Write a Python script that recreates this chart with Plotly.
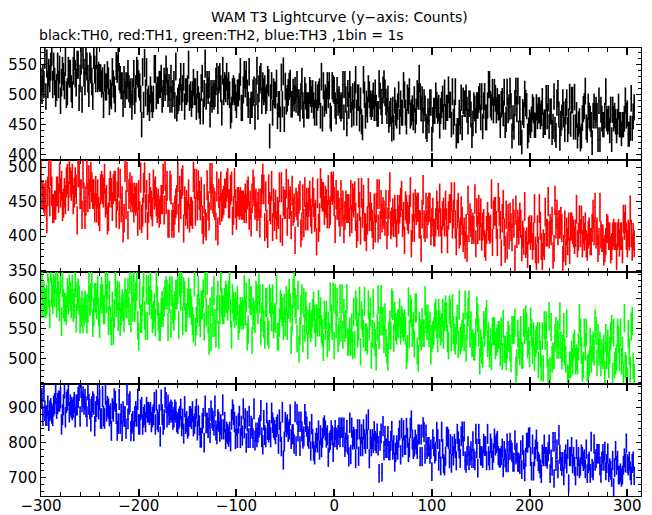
import plotly.graph_objects as go
from plotly.subplots import make_subplots

# ---- data: 1-s bins starting at t = -300 s (counts per bin, read/estimated from the chart) ----
t_start = -300

th0 = [
 522,507,527,517,567,497,552,517,537,527,547,572,517,547,522,502,512,547,517,542,
 490,520,540,530,515,555,500,505,540,535,535,510,500,540,565,535,520,550,550,495,
 527,557,492,567,537,522,557,547,527,502,547,542,522,497,567,542,527,567,527,532,
 528,528,518,523,483,528,513,513,533,523,488,503,498,538,518,508,493,548,543,563,
 530,525,515,515,485,525,500,515,515,535,510,500,505,480,505,535,490,510,540,535,
 518,513,493,450,538,483,553,503,538,488,493,478,508,493,483,493,543,543,498,508,
 507,517,517,527,492,502,522,512,542,522,502,512,492,527,492,502,517,482,547,477,
 490,495,505,530,495,510,530,480,505,505,510,550,495,500,485,500,520,505,505,480,
 517,492,482,472,512,527,472,502,552,497,517,507,517,467,502,492,502,497,502,522,
 530,490,525,530,510,470,540,505,515,510,530,505,515,500,465,475,505,510,505,495,
 483,503,503,513,538,478,478,508,533,518,533,503,483,538,473,483,483,503,508,463,
 505,540,480,510,525,530,490,515,505,510,490,495,525,520,431,495,515,470,505,500,
 499,519,464,484,484,459,529,484,539,459,514,489,494,504,514,519,484,484,504,494,
 507,492,517,487,487,477,497,522,482,467,507,497,482,482,482,507,502,492,502,482,
 470,500,470,495,500,505,465,530,460,515,485,495,490,515,500,515,465,460,515,510,
 507,482,472,507,487,492,482,477,482,517,462,517,492,452,502,482,517,492,467,497,
 470,500,525,470,495,495,460,490,455,445,525,500,465,485,475,510,500,485,480,485,
 498,478,503,478,468,468,518,498,488,473,508,518,503,488,473,493,458,468,473,443,
 475,445,490,470,465,480,500,455,485,470,470,515,500,470,455,495,490,505,465,470,
 477,462,492,457,472,502,497,527,497,477,492,457,487,477,447,442,472,457,487,487,
 426,458,473,473,498,483,473,478,448,473,483,493,463,503,463,478,478,508,483,483,
 450,505,455,470,505,431,440,440,470,455,495,445,490,485,485,495,475,455,485,485,
 467,432,452,482,477,457,482,482,492,497,462,497,447,482,497,462,462,482,517,517,
 484,479,504,474,504,494,474,489,479,479,449,484,489,469,504,449,459,504,474,479,
 506,481,431,461,446,486,506,476,506,436,476,436,421,471,466,501,486,481,431,441,
 454,449,459,479,474,449,449,479,464,474,474,464,469,489,449,454,454,494,464,494,
 447,472,472,437,447,497,442,432,487,502,467,427,452,462,487,467,442,472,487,442,
 456,496,451,491,491,446,496,446,466,431,451,456,426,431,461,476,481,506,446,441,
 480,465,460,450,420,465,480,465,475,465,425,490,425,475,460,450,450,465,505,460,
 455,460,440,475,425,475,460,465,455,440,455,480,450,450,435,450,450,460,490,465,
 469,434,434,444,494,444,464,479,
]

th1 = [
 500,460,460,455,450,460,425,465,490,450,495,465,440,440,445,445,465,465,455,485,
 463,473,443,448,463,453,478,483,458,498,478,473,483,453,463,478,468,423,493,493,
 461,461,431,491,456,431,451,491,456,481,461,486,471,461,461,441,466,441,461,436,
 428,468,473,468,463,483,448,453,423,428,463,473,463,443,468,473,473,433,458,478,
 431,476,441,451,411,426,501,446,486,416,461,471,456,466,456,441,456,451,456,421,
 460,430,485,425,435,470,485,440,460,415,440,470,450,445,435,475,460,465,450,440,
 448,433,438,453,453,483,438,488,453,473,418,418,473,468,418,428,418,438,448,453,
 486,426,466,446,476,481,411,451,436,446,431,461,426,436,436,431,486,476,436,476,
 444,474,459,444,464,424,409,454,419,414,474,444,429,484,459,484,454,449,444,414,
 472,407,462,437,472,442,447,452,462,462,472,477,447,447,467,472,422,437,477,447,
 430,450,450,445,450,445,445,445,440,455,440,460,465,430,445,420,455,475,465,445,
 448,428,443,448,418,448,468,483,468,413,458,418,403,468,443,438,473,413,448,428,
 446,416,436,431,471,411,471,406,451,446,446,476,421,461,446,451,416,466,436,441,
 394,449,444,434,454,459,404,414,454,419,464,429,449,429,449,459,434,424,464,449,
 427,432,392,462,412,427,477,462,457,457,437,452,447,432,467,432,437,472,467,472,
 450,410,460,445,445,435,420,460,435,445,410,430,445,440,440,440,420,460,425,455,
 448,458,428,403,413,463,443,408,463,433,453,413,413,398,423,463,428,443,428,418,
 401,441,411,441,461,411,461,416,446,426,436,431,421,446,401,421,446,471,416,421,
 434,419,439,419,404,439,424,439,449,459,419,429,394,444,439,429,424,439,464,389,
 412,442,412,447,437,442,442,417,417,382,432,467,417,412,442,417,437,442,442,407,
 420,435,405,405,420,445,430,420,455,420,395,430,435,420,445,420,395,430,440,440,
 457,417,432,457,417,392,432,442,402,407,437,422,397,407,387,412,382,452,412,427,
 419,409,414,409,454,389,434,409,439,414,434,399,414,419,389,384,409,429,414,409,
 411,461,391,431,436,436,416,391,456,436,416,376,426,446,406,381,431,386,426,401,
 428,413,398,433,418,368,438,403,418,408,428,418,383,403,393,443,388,393,373,408,
 410,400,410,385,400,440,380,370,410,380,440,415,385,370,390,385,435,405,405,450,
 402,412,407,422,372,382,452,417,432,407,417,417,422,412,367,382,417,377,407,392,
 414,379,414,414,409,404,394,404,439,389,399,424,404,424,389,409,399,414,389,384,
 402,407,392,392,412,432,407,442,402,407,382,392,442,402,397,397,377,382,392,412,
 410,400,400,380,385,400,405,400,400,370,400,405,390,400,400,380,425,415,425,400,
 389,404,399,438,404,384,399,389,
]

th2 = [
 592,634,592,604,592,592,598,652,610,574,652,610,598,616,610,634,592,628,604,586,
 633,561,627,591,585,585,579,609,597,615,603,591,615,585,591,627,567,603,609,597,
 565,577,589,565,577,589,583,565,583,619,595,601,619,559,577,601,601,589,613,577,
 557,599,611,599,581,581,629,599,623,563,605,563,545,587,545,575,629,593,605,569,
 603,561,579,591,585,567,609,591,591,609,579,633,567,615,585,621,585,603,621,555,
 536,608,566,566,596,626,572,554,614,554,614,596,620,590,566,572,584,560,626,596,
 570,552,552,576,588,576,594,606,612,606,552,600,612,558,612,582,570,588,606,606,
 616,556,628,604,634,562,610,604,568,568,592,610,592,592,580,562,550,628,544,562,
 583,613,577,559,589,589,607,553,625,577,631,565,529,577,535,595,559,613,559,541,
 581,605,539,581,635,593,581,581,593,605,599,587,605,623,575,539,599,587,575,587,
 578,596,554,566,578,572,578,572,614,578,602,536,548,608,596,596,530,578,572,566,
 605,599,581,617,599,545,569,599,557,539,593,593,545,539,599,593,569,599,557,569,
 566,614,536,536,560,590,584,578,554,584,560,596,554,590,608,584,530,566,608,626,
 593,581,533,605,515,545,581,599,533,593,551,587,563,521,557,569,551,557,575,587,
 566,542,566,560,590,560,578,548,542,518,572,554,572,524,554,536,602,566,554,602,
 521,599,557,593,533,545,599,551,599,539,575,551,557,599,527,527,545,527,551,521,
 577,523,589,577,541,553,595,511,571,559,541,595,535,535,529,589,553,577,505,541,
 592,538,526,502,550,598,538,562,598,562,562,532,568,526,514,502,538,556,538,592,
 588,534,570,552,546,558,558,576,546,564,558,552,558,546,504,516,594,540,582,576,
 542,554,524,584,584,512,500,554,542,536,560,542,542,596,566,554,566,542,554,512,
 533,539,545,569,575,557,533,575,557,545,551,575,539,569,581,569,533,521,581,575,
 535,583,547,535,529,547,565,523,589,529,535,541,553,535,589,517,553,577,589,541,
 555,525,525,519,519,543,579,567,543,495,525,513,507,555,543,561,573,525,537,507,
 527,503,545,545,545,521,527,533,539,539,509,545,503,557,515,515,503,521,539,533,
 517,499,547,547,547,559,481,493,541,523,511,547,505,505,559,547,565,553,523,529,
 507,561,543,513,537,501,525,531,537,489,537,507,483,537,483,555,537,555,507,477,
 570,480,552,498,504,504,534,546,522,540,522,570,522,504,516,552,510,498,558,468,
 465,489,489,507,495,519,525,495,501,495,519,567,543,513,483,489,543,519,543,483,
 486,492,528,498,516,522,510,558,546,492,534,510,522,492,510,504,516,474,534,504,
 525,489,513,537,549,471,543,489,495,501,543,531,501,543,495,513,471,567,489,483,
 463,541,511,481,553,562,487,469,
]

th3 = [
 926,926,877,947,891,877,877,905,863,891,898,884,877,905,912,940,898,912,919,919,
 929,852,880,908,957,873,915,922,936,887,908,901,894,901,915,873,908,908,929,950,
 875,959,917,931,910,924,903,875,952,910,896,861,903,917,910,847,889,903,938,896,
 925,869,869,932,876,869,939,890,904,897,876,883,834,897,890,925,918,883,834,855,
 924,854,882,833,889,875,875,840,938,868,910,917,833,854,861,833,875,889,875,924,
 852,852,894,901,852,873,880,859,901,887,887,880,887,859,873,880,915,852,922,866,
 859,880,817,922,880,852,866,929,915,873,908,880,887,894,887,866,873,894,887,859,
 854,868,875,896,847,868,826,903,854,861,840,847,875,875,868,889,847,854,875,896,
 835,877,849,814,814,856,870,800,905,856,856,842,870,828,891,870,863,849,905,835,
 824,866,859,831,852,838,908,838,859,810,831,824,817,831,803,866,894,880,859,810,
 848,813,855,876,813,848,820,897,841,869,799,862,813,876,813,848,841,813,897,806,
 829,815,829,843,850,892,815,794,864,822,815,885,836,829,836,815,885,857,843,836,
 824,845,852,796,866,831,789,887,750,803,859,845,852,831,838,880,810,824,824,796,
 888,790,881,832,860,790,860,832,811,818,881,860,846,818,811,832,776,853,811,776,
 765,800,814,800,835,779,821,786,814,842,849,835,814,821,758,800,807,835,821,772,
 815,836,815,808,822,843,815,843,843,815,843,787,801,836,794,759,857,766,843,808,
 817,810,754,810,838,761,838,789,824,789,838,810,796,852,810,866,754,810,789,810,
 798,833,805,798,826,791,712,805,826,715,847,777,819,784,784,819,777,777,805,833,
 779,793,744,772,793,779,814,835,765,842,786,835,793,793,842,814,772,786,842,863,
 809,781,788,809,795,781,823,823,760,823,760,844,830,767,823,781,788,788,767,781,
 717,810,789,768,775,831,810,747,782,733,831,782,740,733,761,817,817,810,754,796,
 741,790,762,797,783,748,825,804,783,755,818,832,790,832,748,741,762,790,748,762,
 776,755,804,755,748,825,783,727,825,783,762,762,755,797,790,790,748,825,762,748,
 798,784,749,770,812,791,798,805,763,756,756,763,784,728,777,756,742,798,742,777,
 800,779,772,744,744,807,765,772,744,744,737,779,723,793,751,716,758,800,800,814,
 816,760,718,795,718,760,781,809,774,746,739,725,711,767,760,795,760,760,753,774,
 795,711,753,732,802,697,802,746,781,725,822,767,746,732,746,704,753,767,739,781,
 683,760,760,788,739,760,732,704,781,732,760,725,732,767,760,746,753,725,781,711,
 740,747,712,803,726,719,796,747,754,768,768,768,733,712,747,768,747,775,719,740,
 770,714,728,721,700,749,672,728,777,735,749,707,707,714,700,707,735,756,742,798,
 740,733,747,719,705,740,747,705,
]

series_names = ["TH0", "TH1", "TH2", "TH3"]
series_values = [th0, th1, th2, th3]
series_colors = ["#000000", "#ff0000", "#00ff00", "#0000ff"]

x_range = [-300, 314]
x_major, x_minor = 100, 20
y_ranges = [[391, 578], [348, 510.5], [457, 644], [647, 968]]
y_major = [50, 50, 50, 100]
y_minor = [10, 10, 10, 20]

title_text = "WAM T3 Lightcurve (y\u2212axis: Counts)"
subtitle_text = "black:TH0, red:TH1, green:TH2, blue:TH3 ,1bin = 1s"

FONT = "DejaVu Sans"

fig = make_subplots(rows=4, cols=1, shared_xaxes=True, vertical_spacing=0)

for i, (name, vals, col) in enumerate(zip(series_names, series_values, series_colors)):
    times = [t_start + k for k in range(len(vals))]
    # Poisson error bars (sqrt of counts), half-bin horizontal bars
    errs = [v ** 0.5 for v in vals]
    fig.add_trace(
        go.Scatter(x=times, y=vals, mode="markers", name=name,
                   marker=dict(color=col, size=1),
                   error_y=dict(type="data", array=errs, symmetric=True,
                                color=col, thickness=1.6, width=0),
                   error_x=dict(type="constant", value=0.5,
                                color=col, thickness=1, width=0),
                   showlegend=False, hoverinfo="x+y"),
        row=i + 1, col=1)
    fig.update_yaxes(
        range=y_ranges[i], dtick=y_major[i], tick0=0, automargin=False,
        ticks="inside", ticklen=5, tickwidth=1, tickcolor="black",
        minor=dict(dtick=y_minor[i], tick0=0, ticks="inside", ticklen=3,
                   tickwidth=1, tickcolor="black", showgrid=False),
        showline=True, linecolor="black", linewidth=1, mirror="ticks",
        showgrid=False, zeroline=False,
        tickfont=dict(family=FONT, size=15, color="black"),
        row=i + 1, col=1)

fig.update_xaxes(
    range=x_range, dtick=x_major, tick0=0, automargin=False,
    ticks="inside", ticklen=7, tickwidth=2, tickcolor="black",
    minor=dict(dtick=x_minor, tick0=0, ticks="inside", ticklen=4,
               tickwidth=1, tickcolor="black", showgrid=False),
    showline=True, linecolor="black", linewidth=1, mirror="ticks",
    showgrid=False, zeroline=False,
    tickfont=dict(family=FONT, size=15, color="black"))
fig.update_xaxes(ticklabelstandoff=-4, row=4, col=1)

fig.add_annotation(text=title_text, xref="paper", yref="paper",
                   x=0.498, y=1.07, xanchor="center", yanchor="middle",
                   showarrow=False, font=dict(family=FONT, size=14, color="black"))
fig.add_annotation(text=subtitle_text, xref="paper", yref="paper",
                   x=-0.007, y=1.029, xanchor="left", yanchor="middle",
                   showarrow=False, font=dict(family=FONT, size=14, color="black"))

fig.update_layout(
    width=652, height=515,
    margin=dict(l=41, r=11, t=48, b=19),
    paper_bgcolor="white", plot_bgcolor="white",
    font=dict(family=FONT, color="black"),
)

fig.write_html("out.html", config={"displayModeBar": False},
               post_script="document.body.style.margin='0px';")
